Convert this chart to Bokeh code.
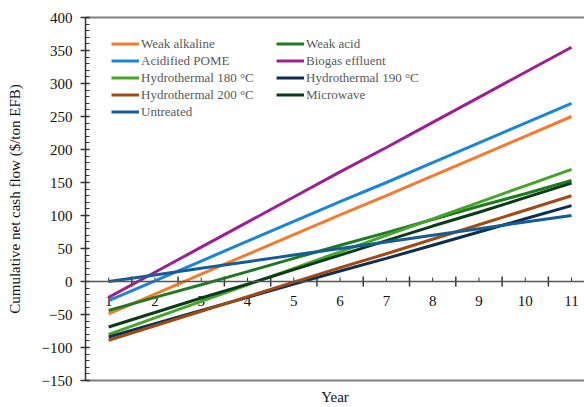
from bokeh.plotting import figure
from bokeh.models import (Range1d, LinearAxis, FixedTicker, Legend, LegendItem, Span)
from bokeh.core.properties import value
from bokeh.embed import file_html
from bokeh.resources import INLINE

years = [1, 2, 3, 4, 5, 6, 7, 8, 9, 10, 11]
year_labels = ["1", "2", "3", "4", "5", "6", "7", "8", "9", "10", "11"]

weak_alkaline = [-49, -19, 11, 41, 71, 101, 130, 160, 190, 220, 250]
weak_acid = [-44, -24, -5, 15, 35, 55, 74, 94, 114, 133, 153]
acidified_pome = [-29, 1, 31, 61, 91, 121, 150, 180, 210, 240, 270]
biogas_effluent = [-24, 14, 52, 90, 128, 166, 203, 241, 279, 317, 355]
hydro_180 = [-80, -55, -30, -5, 20, 45, 70, 95, 120, 145, 170]
hydro_190 = [-84, -64, -44, -24, -4, 16, 35, 55, 75, 95, 115]
hydro_200 = [-89, -67, -45, -23, -1, 21, 42, 64, 86, 108, 130]
microwave = [-69, -47, -25, -4, 18, 40, 62, 84, 105, 127, 149]
untreated = [0, 10, 20, 30, 40, 50, 60, 70, 80, 90, 100]

series_names = ["Weak alkaline", "Weak acid", "Acidified POME", "Biogas effluent",
                "Hydrothermal 180 °C", "Hydrothermal 190 °C", "Hydrothermal 200 °C",
                "Microwave", "Untreated"]
series_values = [weak_alkaline, weak_acid, acidified_pome, biogas_effluent,
                 hydro_180, hydro_190, hydro_200, microwave, untreated]
series_colors = ["#F47B2E", "#1F7A22", "#1A86D8", "#9E1F91",
                 "#43A52A", "#0E2F52", "#A04A15", "#0D3B1A", "#165C95"]

FONT = "Liberation Serif"

p = figure(width=584, height=407, output_backend="svg", toolbar_location=None,
           x_range=Range1d(0.5, 11.28), y_range=Range1d(-150, 400),
           x_axis_type=None, y_axis_type=None)
p.min_border_left = 85
p.min_border_right = 0
p.min_border_top = 17
p.min_border_bottom = 26
p.outline_line_color = None
p.xgrid.visible = False
p.ygrid.visible = False
p.background_fill_color = "white"
p.border_fill_color = "white"

# y axis
yax = LinearAxis(ticker=FixedTicker(ticks=list(range(-150, 401, 50)),
                                    minor_ticks=list(range(-150, 401, 10))))
yax.axis_label = "Cumulative net cash flow ($/ton EFB)"
yax.axis_label_text_font = FONT
yax.axis_label_text_font_size = "15px"
yax.axis_label_text_font_style = "normal"
yax.axis_label_text_color = "#111111"
yax.axis_label_standoff = 16
yax.major_label_text_font = FONT
yax.major_label_text_font_size = "15px"
yax.major_label_text_color = "#111111"
yax.major_label_standoff = 8
yax.axis_line_color = "#333333"
yax.axis_line_width = 1.5
yax.major_tick_line_color = "#333333"
yax.major_tick_line_width = 1.5
yax.major_tick_in = 4
yax.major_tick_out = 5
yax.minor_tick_line_color = "#333333"
yax.minor_tick_line_width = 1
yax.minor_tick_in = 4
yax.minor_tick_out = 0
p.add_layout(yax, "left")

# bottom border + title
xax = LinearAxis(ticker=FixedTicker(ticks=[]))
xax.axis_label = "Year"
xax.axis_label_text_font = FONT
xax.axis_label_text_font_size = "15px"
xax.axis_label_text_font_style = "normal"
xax.axis_label_text_color = "#111111"
xax.axis_label_standoff = 8
xax.major_tick_out = 0
xax.major_tick_in = 0
xax.major_label_standoff = 0
xax.axis_line_color = "#7F7F7F"
xax.axis_line_width = 2
p.add_layout(xax, "below")

# top border
tax = LinearAxis(ticker=FixedTicker(ticks=[]))
tax.major_tick_out = 0
tax.major_tick_in = 0
tax.major_label_standoff = 0
tax.axis_line_color = "#7F7F7F"
tax.axis_line_width = 2
p.add_layout(tax, "above")

# category axis at zero
p.add_layout(Span(location=0, dimension="width", line_color="#555555", line_width=1.5))
bounds = [y + 0.5 for y in years[:-1]]
p.segment(x0=bounds, y0=[-7.5] * len(bounds), x1=bounds, y1=[7.5] * len(bounds),
          line_color="#333333", line_width=1.5)
p.segment(x0=years, y0=[0] * len(years), x1=years, y1=[6] * len(years),
          line_color="#333333", line_width=1)
p.text(x=years, y=[0] * len(years), text=year_labels, text_align="center",
       text_baseline="middle", y_offset=19, text_font=value(FONT),
       text_font_size="15px", text_color="#111111")

renderers = []
for name, vals, col in zip(series_names, series_values, series_colors):
    r = p.line(x=years, y=vals, line_color=col, line_width=3)
    renderers.append((name, r))

def make_legend(items, loc):
    lg = Legend(items=[LegendItem(label=n, renderers=[r]) for n, r in items],
                location=loc)
    lg.background_fill_alpha = 0
    lg.border_line_color = None
    lg.padding = 0
    lg.margin = 0
    lg.spacing = 0
    lg.glyph_width = 28
    lg.glyph_height = 17
    lg.label_height = 17
    lg.label_standoff = 2
    lg.label_text_font = FONT
    lg.label_text_font_size = "13px"
    lg.label_text_color = "#595959"
    lg.label_text_baseline = "middle"
    return lg

left_items = [renderers[i] for i in (0, 2, 4, 6, 8)]
right_items = [renderers[i] for i in (1, 3, 5, 7)]
p.add_layout(make_legend(left_items, (26, 260)), "center")
p.add_layout(make_legend(right_items, (191, 277)), "center")

open("out.html", "w").write(file_html(p, INLINE))
